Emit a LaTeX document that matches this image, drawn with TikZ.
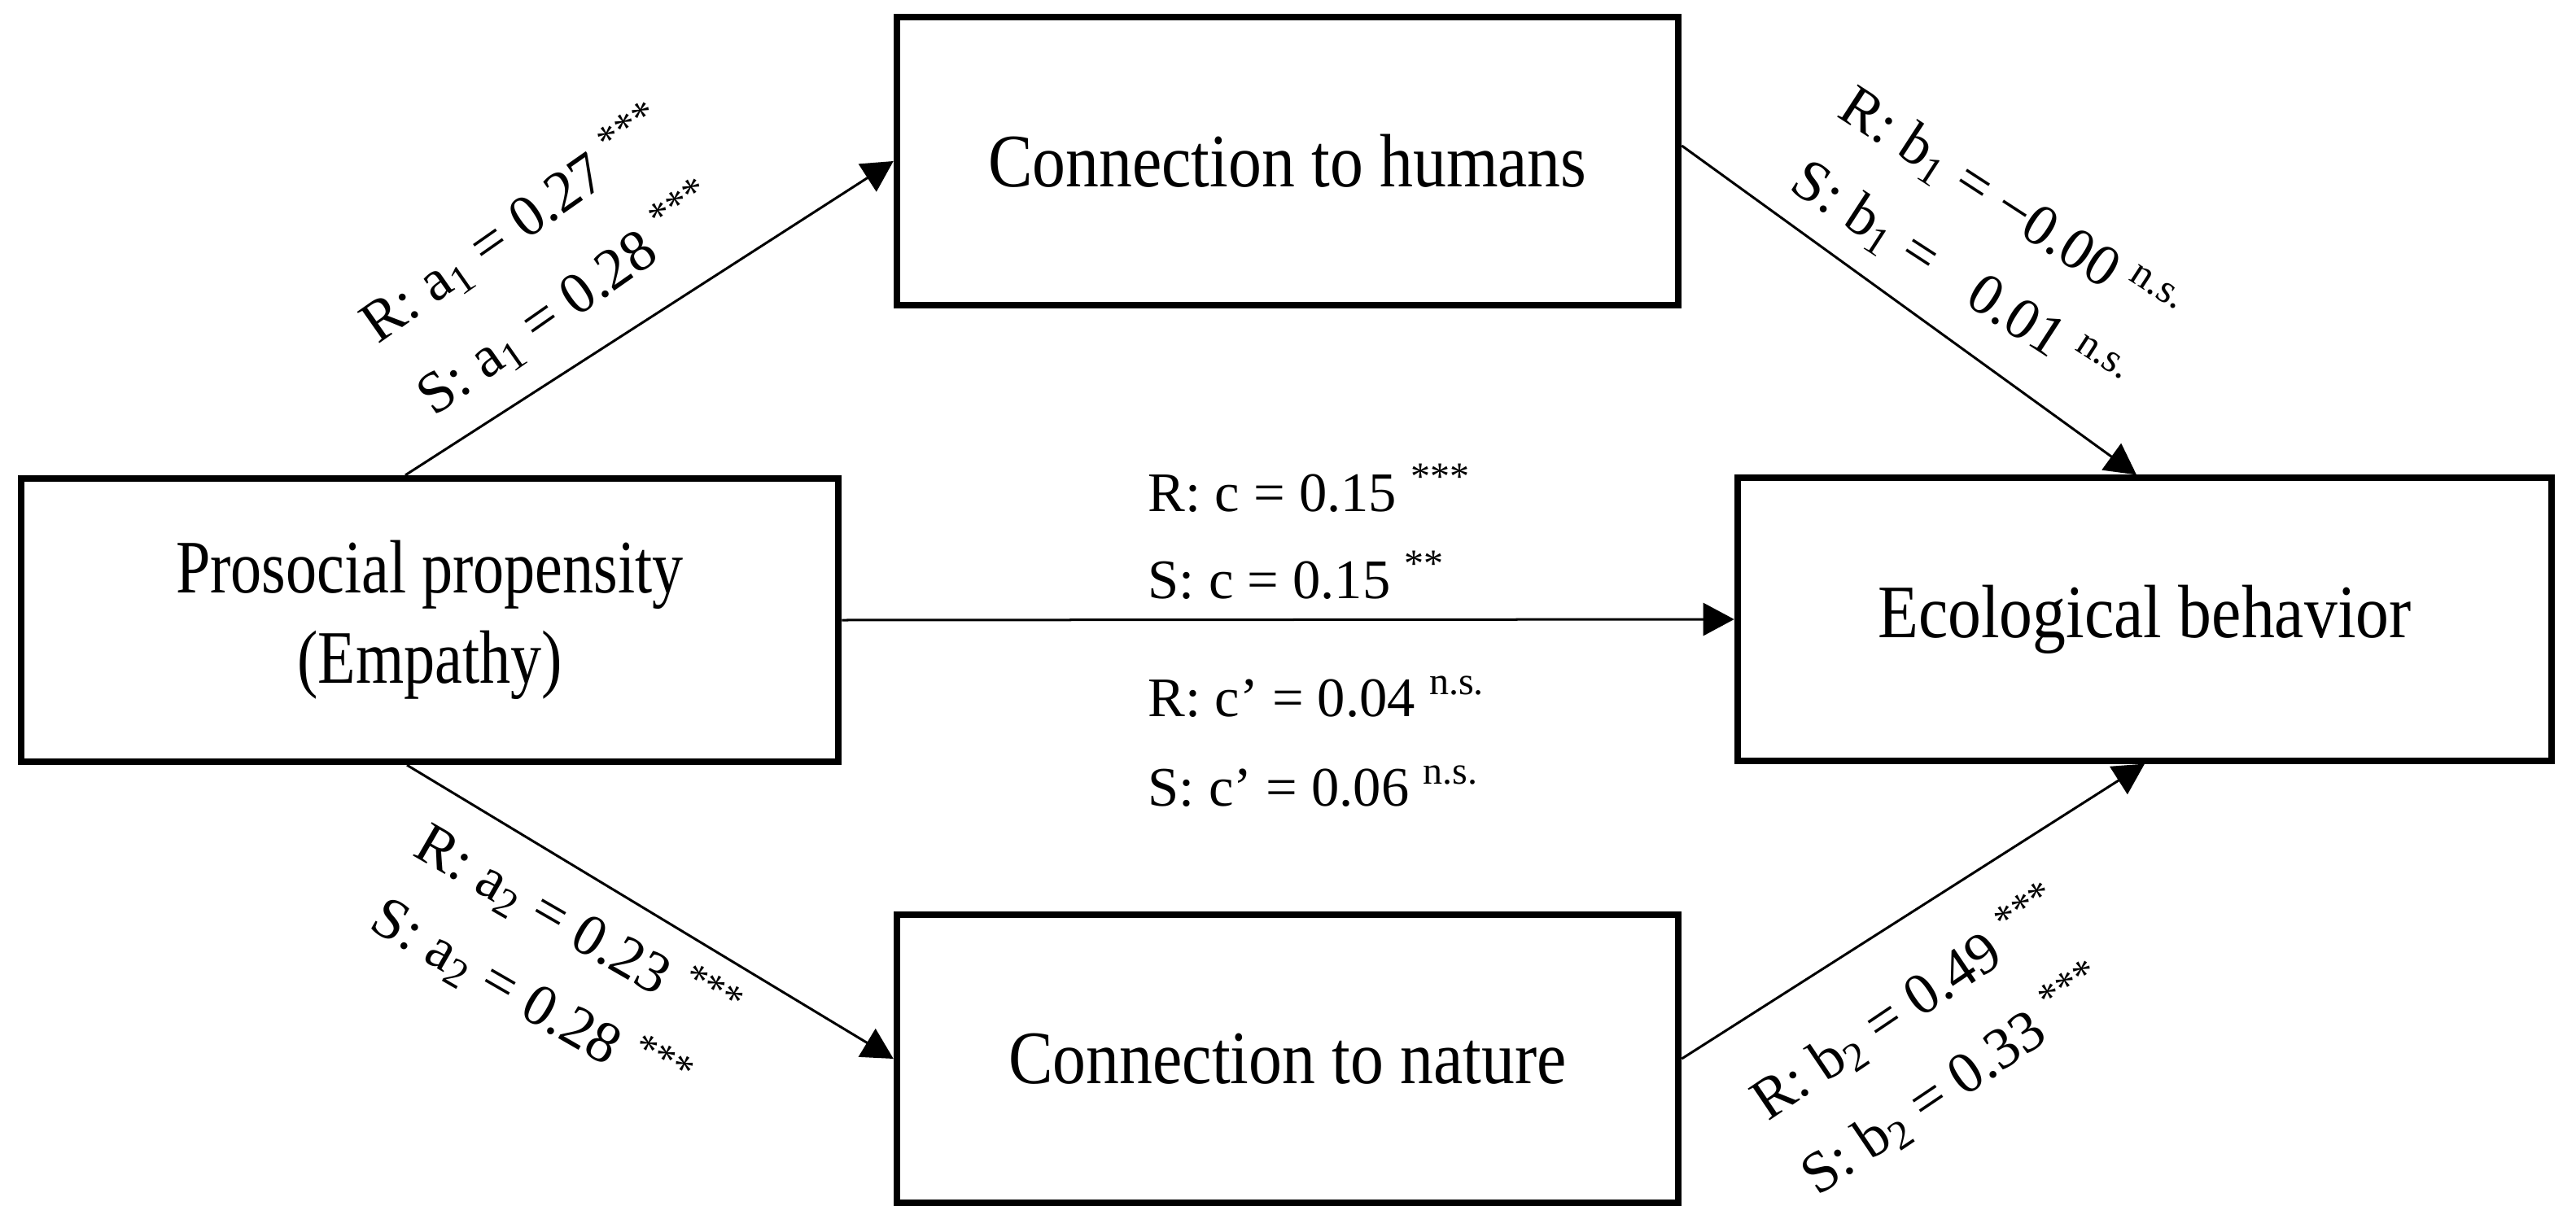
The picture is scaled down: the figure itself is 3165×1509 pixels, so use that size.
\documentclass[tikz,border=0pt]{standalone}
\usepackage{fontspec}
\setmainfont{Liberation Serif}
\newfontfamily\boxfam[FakeStretch=0.88]{Liberation Serif}
\newfontfamily\profam[FakeStretch=0.82]{Liberation Serif}
\usetikzlibrary{arrows.meta}
\newcommand{\boxfont}{\boxfam\fontsize{26.4pt}{31.5pt}\selectfont}
\newcommand{\profont}{\profam\fontsize{26.4pt}{31.5pt}\selectfont}
\newcommand{\labfont}{\fontsize{20.5pt}{24pt}\selectfont}
\newcommand{\clabfont}{\fontsize{19.5pt}{23pt}\selectfont}
\begin{document}
\begin{tikzpicture}[x=0.01cm,y=-0.01cm,
  box/.style={draw, line width=0.08cm, inner sep=0pt, align=center, font=\boxfont},
  conn/.style={line width=0.03cm, -{Triangle[length=0.38cm,width=0.40cm]}},
  lab/.style={font=\labfont, inner sep=0pt},
  clab/.style={font=\clabfont, inner sep=0pt, anchor=base west}]
\useasboundingbox (0,0) rectangle (3165,1509);

% boxes
\node[box, font=\profont, minimum width=10.04cm, minimum height=3.48cm] (pro) at (528,762) {Prosocial propensity\\(Empathy)};
\node[box, minimum width=9.6cm, minimum height=3.54cm] (hum) at (1582,198) {Connection to humans};
\node[box, minimum width=10cm, minimum height=3.47cm] (eco) at (2635,761) {Ecological behavior};
\node[box, minimum width=9.6cm, minimum height=3.54cm] (nat) at (1582,1301) {Connection to nature};

% connectors
\draw[conn] ([xshift=-0.3cm]pro.north) -- (hum.west);
\draw[conn] ([yshift=0.19cm]hum.east) -- ([xshift=-0.1cm]eco.north);
\draw[conn] (pro.east) -- (eco.west);
\draw[conn] ([xshift=-0.28cm]pro.south) -- (nat.west);
\draw[conn] (nat.east) -- (eco.south);

% path labels
\node[lab, rotate=35] (a1R) at (632,276) {R: a\textsubscript{1} = 0.27 \textsuperscript{***}};
\node[lab, rotate=35] (a1S) at (698,368) {S: a\textsubscript{1} = 0.28 \textsuperscript{***}};
\node[lab, rotate=-33] (b1R) at (2469,257) {R: b\textsubscript{1} = −0.00 \textsuperscript{n.s.}};
\node[lab, rotate=-33] (b1S) at (2406,345) {S: b\textsubscript{1} =\hspace{0.8em}0.01 \textsuperscript{n.s.}};
\node[lab, rotate=-30] (a2R) at (710,1140) {R: a\textsubscript{2} = 0.23 \textsuperscript{***}};
\node[lab, rotate=-30] (a2S) at (652,1228) {S: a\textsubscript{2} = 0.28 \textsuperscript{***}};
\node[lab, rotate=34] (b2R) at (2344,1233) {R: b\textsubscript{2} = 0.49 \textsuperscript{***}};
\node[lab, rotate=34] (b2S) at (2402,1327) {S: b\textsubscript{2} = 0.33 \textsuperscript{***}};

\node[clab] (cR) at (1410,628) {R: c = 0.15 \textsuperscript{***}};
\node[clab] (cS) at (1410,735) {S: c = 0.15 \textsuperscript{**}};
\node[clab] (cpR) at (1410,880) {R: c’ = 0.04 \textsuperscript{n.s.}};
\node[clab] (cpS) at (1410,990) {S: c’ = 0.06 \textsuperscript{n.s.}};
\end{tikzpicture}
\end{document}
